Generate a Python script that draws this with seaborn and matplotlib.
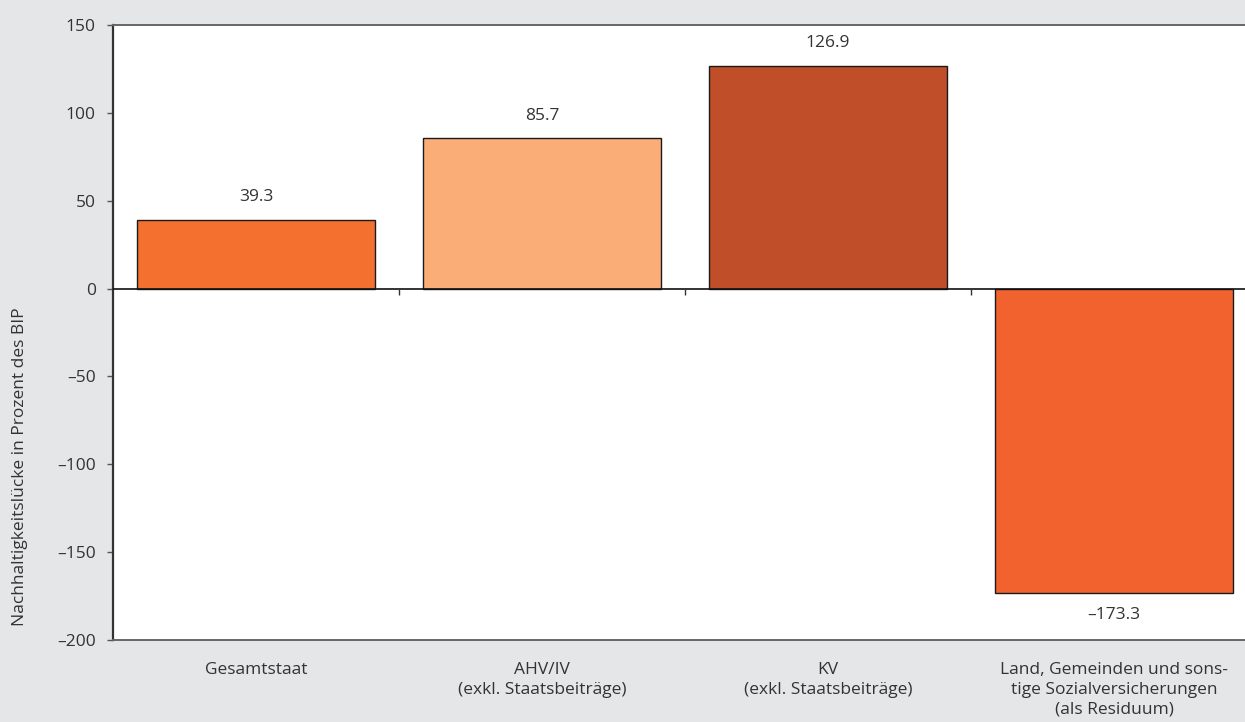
import matplotlib
matplotlib.use("Agg")
import matplotlib.pyplot as plt
import matplotlib.ticker as mticker
import seaborn as sns
import pandas as pd

categories = [
    "Gesamtstaat",
    "AHV/IV\n(exkl. Staatsbeiträge)",
    "KV\n(exkl. Staatsbeiträge)",
    "Land, Gemeinden und sons-\ntige Sozialversicherungen\n(als Residuum)",
]
values = [39.3, 85.7, 126.9, -173.3]
bar_colors = ["#F3702E", "#FBAD78", "#C04E28", "#F2622E"]
y_ticks = [-200, -150, -100, -50, 0, 50, 100, 150]
y_label = "Nachhaltigkeitslücke in Prozent des BIP"

bg = "#E5E6E8"
text_color = "#333333"
fs = 12.5

sns.set_theme(style="white")
plt.rcParams["font.family"] = ["Open Sans", "DejaVu Sans"]

fig = plt.figure(figsize=(12.45, 7.22), dpi=100, facecolor=bg)
ax = fig.add_axes([113 / 1245, 82 / 722, 1132 / 1245, 615 / 722])
ax.set_facecolor("white")

df = pd.DataFrame({"kategorie": categories, "wert": values})
sns.barplot(
    data=df, x="kategorie", y="wert", hue="kategorie",
    palette=bar_colors, legend=False, width=0.83,
    edgecolor="#1a1a1a", linewidth=1.0, ax=ax, saturation=1,
)

ax.set_xlim(-0.5, 3.458)
ax.set_ylim(-200, 150)
ax.set_yticks(y_ticks)
ax.yaxis.set_major_formatter(
    mticker.FuncFormatter(lambda v, _: f"{v:.0f}".replace("-", "–"))
)
ax.tick_params(axis="y", direction="out", length=4.5, width=1, color="#555555",
               labelsize=fs, labelcolor=text_color, pad=8, left=True)
ax.tick_params(axis="x", length=0, labelsize=fs, labelcolor=text_color, pad=16)
for lbl in ax.get_xticklabels():
    lbl.set_linespacing(1.3)
ax.set_xlabel("")
ax.set_ylabel(y_label, fontsize=fs, color=text_color)
ax.yaxis.set_label_coords(-0.075, 0.281)

for side in ["top", "bottom"]:
    ax.spines[side].set_color("#666666")
    ax.spines[side].set_linewidth(1.4)
ax.spines["left"].set_color("#333333")
ax.spines["left"].set_linewidth(1.6)
ax.spines["right"].set_visible(False)

# zero line with separators between categories
ax.axhline(0, color="#111111", linewidth=1.2, zorder=3)
ax.vlines([0.5, 1.5, 2.5], -3.5, 0, color="#333333", linewidth=1.0, zorder=3)

# value labels
for i, v in enumerate(values):
    offset = 16 if v >= 0 else -16
    ax.annotate(f"{v:.1f}".replace("-", "–"), xy=(i, v), xytext=(0, offset),
                textcoords="offset points", ha="center", va="center",
                fontsize=fs, color=text_color)

fig.savefig("out.png", dpi=100, facecolor=bg)
